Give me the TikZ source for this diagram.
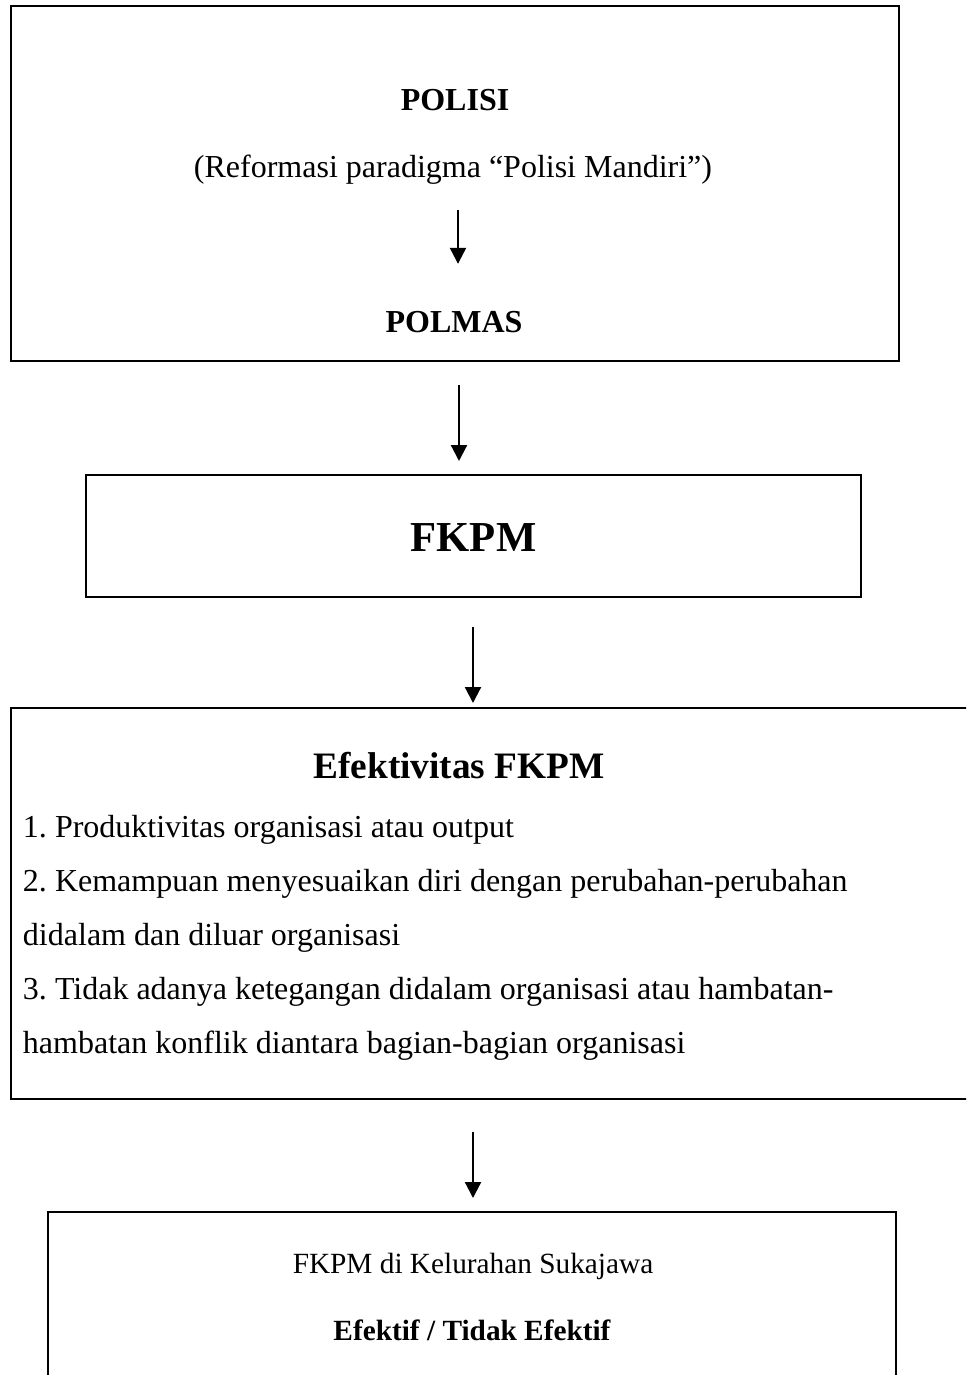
\documentclass[tikz,border=0pt]{standalone}
\usepackage{fontspec}
\setmainfont{Liberation Serif}
\usetikzlibrary{arrows.meta}
\frenchspacing
\begin{document}
\begin{tikzpicture}[x=1pt,y=-1pt,
  box/.style={draw=black,line width=2pt,inner sep=0pt,outer sep=0pt},
  txt/.style={inner sep=0pt,outer sep=0pt,anchor=base},
  txtl/.style={inner sep=0pt,outer sep=0pt,anchor=base west},
  arr/.style={line width=2.2pt,-{Triangle[width=16pt,length=16pt]}},
  fmain/.style={font=\fontsize{32}{38}\selectfont\frenchspacing},
  fhead/.style={font=\fontsize{32}{38}\selectfont\bfseries},
  fsmall/.style={font=\fontsize{29.3}{35}\selectfont}
]
\useasboundingbox (0,0) rectangle (966,1375);
\clip (0,0) rectangle (966,1375);
\fill[white] (0,0) rectangle (966,1375);

% boxes
\node[box,minimum width=888pt,minimum height=355pt] (b1) at (455,183.5) {};
\node[box,minimum width=775pt,minimum height=122pt] (b2) at (473.5,536) {};
\node[box,minimum width=989pt,minimum height=391pt] (b3) at (505.5,903.5) {};
\node[box,minimum width=848pt,minimum height=208pt] (b4) at (472,1316) {};

% box 1 texts
\node[txt,fhead] (t1) at (455,111) {POLISI};
\node[txt,fmain] (t2) at (453,178) {(Reformasi paradigma “Polisi Mandiri”)};
\node[txt,fhead] (t3) at (454,332) {POLMAS};

% box 2
\node[txt,font=\fontsize{42.7}{50}\selectfont\bfseries] (t4) at (473.5,551) {FKPM};

% box 3
\node[txt,font=\fontsize{37.3}{44}\selectfont\bfseries] (t5) at (459,778) {Efektivitas FKPM};
\node[txtl,fmain] (l1) at (23,837) {1. Produktivitas organisasi atau output};
\node[txtl,fmain] (l2) at (23,891) {2. Kemampuan menyesuaikan diri dengan perubahan-perubahan};
\node[txtl,fmain] (l3) at (23,945) {didalam dan diluar organisasi};
\node[txtl,fmain] (l4) at (23,999) {3. Tidak adanya ketegangan didalam organisasi atau hambatan-};
\node[txtl,fmain] (l5) at (23,1053) {hambatan konflik diantara bagian-bagian organisasi};

% box 4
\node[txt,fsmall] (t6) at (473,1273) {FKPM di Kelurahan Sukajawa};
\node[txt,font=\fontsize{29.3}{35}\selectfont\bfseries] (t7) at (472,1340) {Efektif / Tidak Efektif};

% arrows
\draw[arr] ([xshift=5pt,yshift=-32pt]t2.base) -- ([xshift=4pt,yshift=47pt]t3.north);
\draw[arr] ([xshift=4pt,yshift=-24pt]b1.south) -- ([xshift=-14.5pt,yshift=14pt]b2.north);
\draw[arr] ([xshift=-0.5pt,yshift=-30pt]b2.south) -- ([xshift=-32.5pt,yshift=5pt]b3.north);
\draw[arr] ([xshift=-32.5pt,yshift=-33pt]b3.south) -- ([xshift=1pt,yshift=14pt]b4.north);
\end{tikzpicture}
\end{document}
